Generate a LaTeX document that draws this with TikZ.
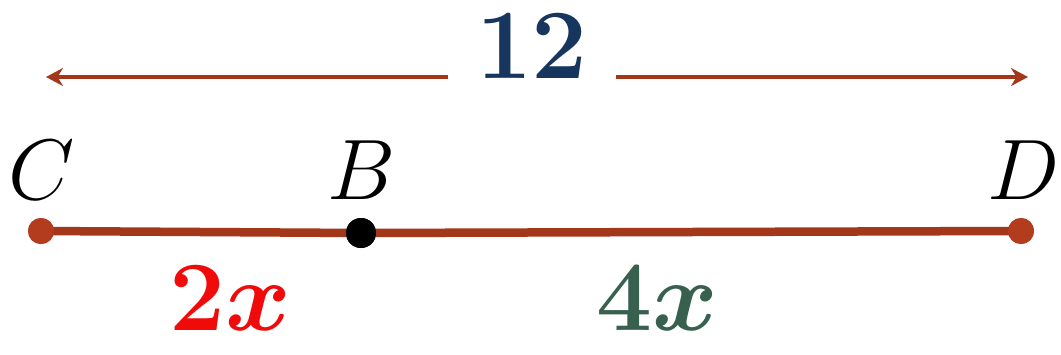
\documentclass[tikz,border=0pt]{standalone}
\usetikzlibrary{arrows.meta}
\definecolor{segbrown}{RGB}{163,55,25}
\definecolor{dotbrown}{RGB}{180,60,30}
\definecolor{navy}{RGB}{23,54,93}
\definecolor{darkgreen}{RGB}{55,96,78}
\definecolor{brightred}{RGB}{240,10,10}
\tikzset{
  ptlabel/.style={font=\Huge, scale=3.45, inner sep=0pt},
  numlabel/.style={font=\Huge\boldmath, scale=4.0, inner sep=0pt},
  enddot/.style={circle, fill=dotbrown, minimum size=26pt, inner sep=0pt},
  middot/.style={circle, fill=black, minimum size=30pt, inner sep=0pt},
  seg/.style={segbrown, line width=8.5pt},
  dim/.style={segbrown, line width=4.5pt, -{Stealth[length=17pt,width=18pt]}}
}
\begin{document}
\begin{tikzpicture}[x=1pt,y=-1pt]
\useasboundingbox[fill=white] (0,0) rectangle (1061,354);
% dimension arrow
\node[numlabel, text=navy] (twelve) at (532,46) {$12$};
\coordinate (Lend) at (46,77);
\coordinate (Lgap) at (448,77);
\coordinate (Rgap) at (616,77);
\coordinate (Rend) at (1028,77);
\draw[dim] (Lgap) -- (Lend);
\draw[dim] (Rgap) -- (Rend);
% segment
\node[enddot] (C) at (41,231) {};
\node[middot] (B) at (361,233) {};
\node[enddot] (D) at (1021,231) {};
\draw[seg] (C.center) -- (B.center) -- (D.center);
\node[enddot] at (C.center) {};
\node[enddot] at (D.center) {};
\node[middot] at (B.center) {};
% point labels
\node[ptlabel] (Clab) at (42,170) {$C$};
\node[ptlabel] (Blab) at (362,170) {$B$};
\node[ptlabel] (Dlab) at (1024,170) {$D$};
% length labels
\node[numlabel, text=brightred] (twox) at (230,298) {$2x$};
\node[numlabel, text=darkgreen] (fourx) at (657,298) {$4x$};
\end{tikzpicture}
\end{document}
